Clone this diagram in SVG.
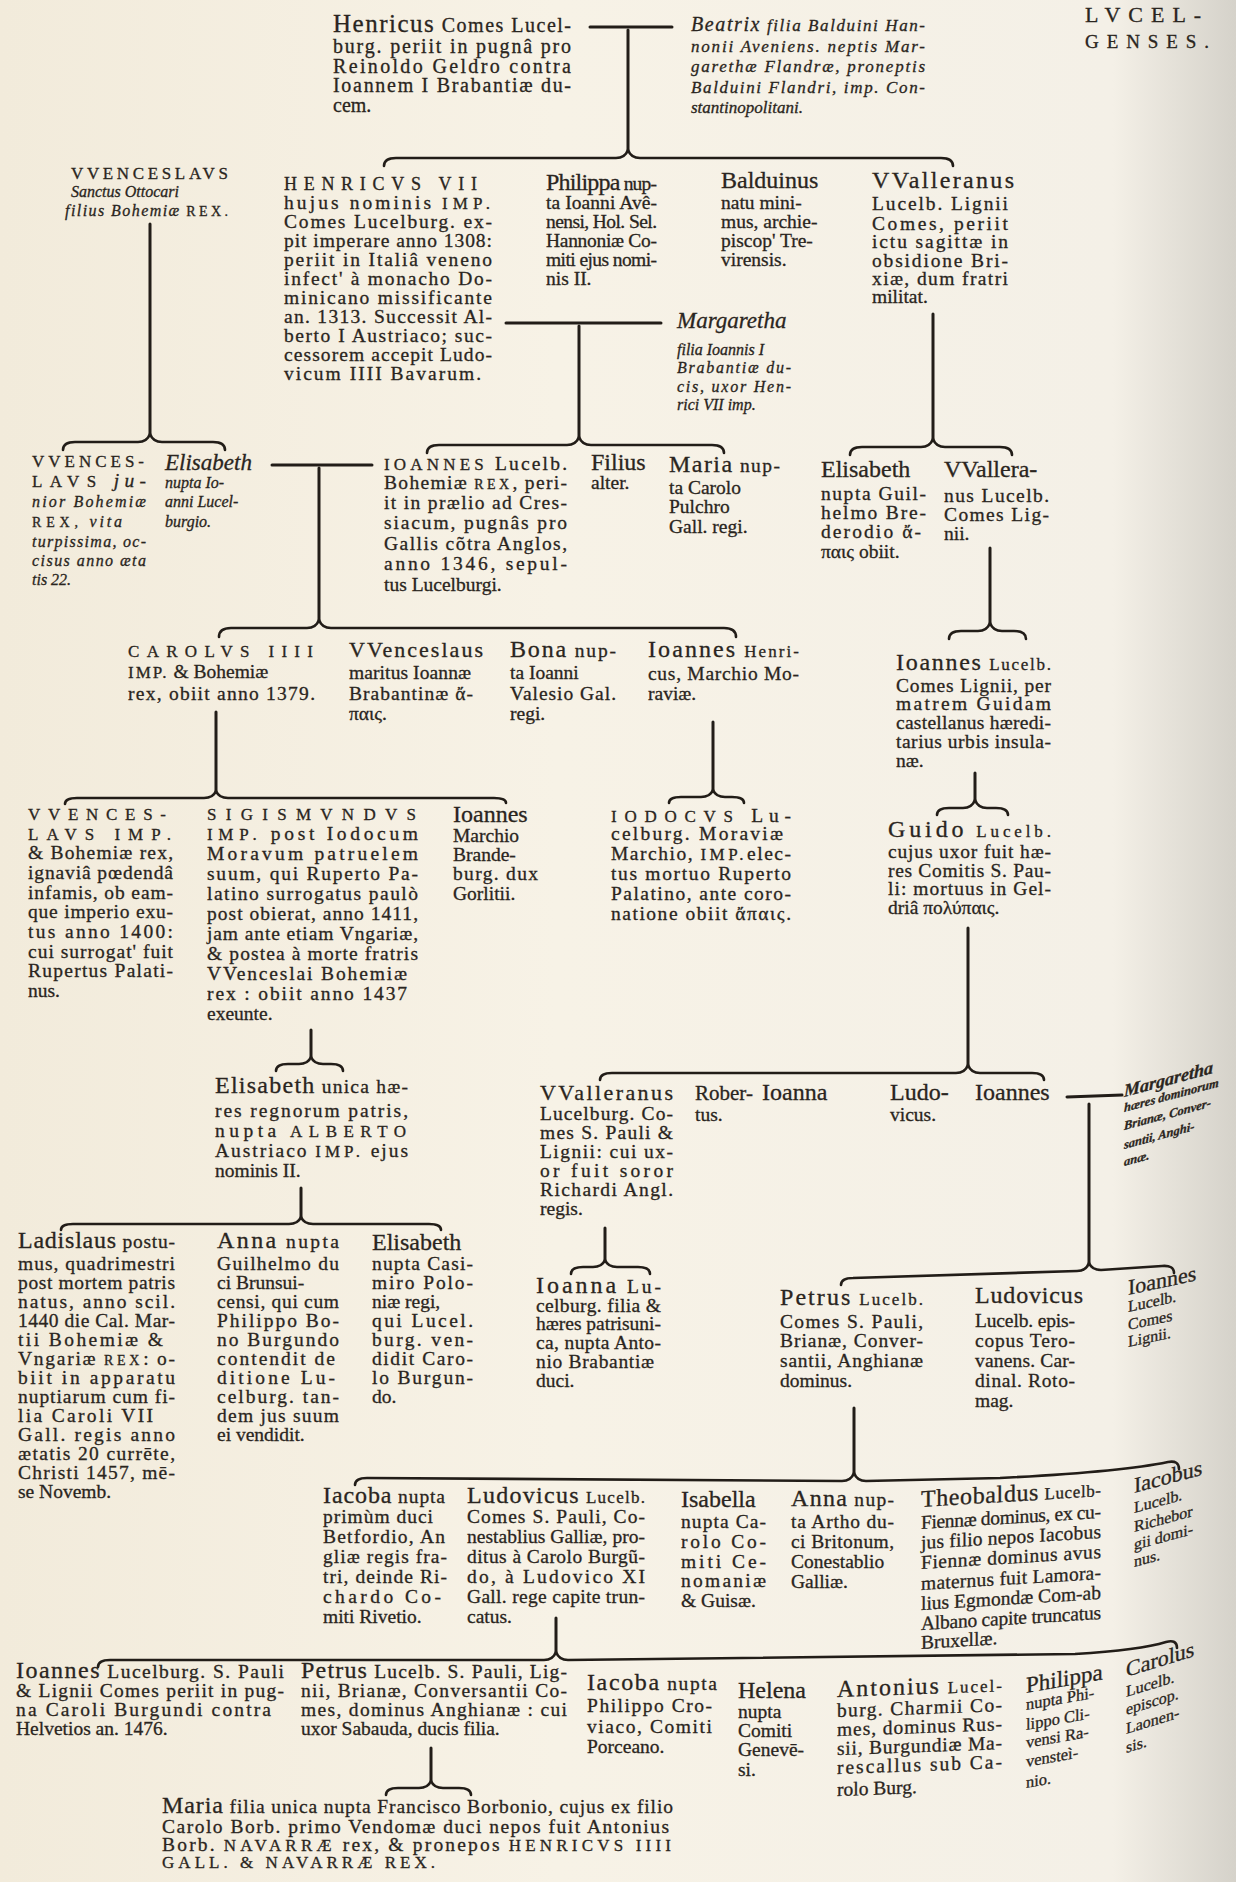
<svg xmlns="http://www.w3.org/2000/svg" width="1236" height="1882" viewBox="0 0 1236 1882">
<defs>
<linearGradient id="pg" x1="0" y1="0" x2="1" y2="0">
<stop offset="0" stop-color="#f2ebdb"/>
<stop offset="0.45" stop-color="#f7f2e6"/>
<stop offset="0.9" stop-color="#f4f0e7"/>
<stop offset="1" stop-color="#d5d2ca"/>
</linearGradient>
<style>
.t{font-family:"Liberation Serif","DejaVu Serif",serif;font-size:19.5px;fill:#2a2520;stroke:#2a2520;stroke-width:0.3px}
.h{font-size:24px}
.c{font-size:17px;letter-spacing:2px}
.i{font-style:italic}
.sm{font-size:16px}
.n{font-style:normal}
.ln{fill:none;stroke:#221d18;stroke-width:3;stroke-linecap:round}
.br{fill:none;stroke:#221d18;stroke-width:2.6;stroke-linecap:round;stroke-linejoin:round}
</style>
</defs>
<rect width="1236" height="1882" fill="url(#pg)"/>

<g id="connectors">
<path class="ln" d="M590,27 L672,27"/>
<path class="ln" d="M628,30 L628,150"/>
<path class="br" d="M384,166 Q384,158 396,158 L616,158 Q625,158 628,150 Q631,158 640,158 L941,158 Q953,158 953,166"/>
<path class="ln" d="M506,323 L661,323"/>
<path class="ln" d="M579,326 L579,437"/>
<path class="br" d="M427,453 Q427,445 439,445 L567,445 Q576,445 579,437 Q582,445 591,445 L712,445 Q724,445 724,453"/>
<path class="ln" d="M150,224 L150,434"/>
<path class="br" d="M63,450 Q63,442 75,442 L138,442 Q147,442 150,434 Q153,442 162,442 L213,442 Q225,442 225,450"/>
<path class="ln" d="M933,314 L933,439"/>
<path class="br" d="M850,455 Q850,447 862,447 L921,447 Q930,447 933,439 Q936,447 945,447 L1000,447 Q1012,447 1012,455"/>
<path class="ln" d="M272,465 L372,465"/>
<path class="ln" d="M319,468 L319,620"/>
<path class="br" d="M219,637 Q219,628 231,628 L307,628 Q316,628 319,620 Q322,628 331,628 L724,628 Q736,628 736,637"/>
<path class="ln" d="M990,548 L990,623"/>
<path class="br" d="M949,639 Q949,631 961,631 L978,631 Q987,631 990,623 Q993,631 1002,631 L1014,631 Q1026,631 1026,639"/>
<path class="ln" d="M216,712 L216,791"/>
<path class="br" d="M65,804 Q65,798 77,798 L204,798 Q213,798 216,791 Q219,798 228,798 L494,798 Q506,798 506,803"/>
<path class="ln" d="M713,722 L713,790"/>
<path class="br" d="M669,803 Q669,797 681,797 L701,797 Q710,797 713,790 Q716,797 725,797 L732,797 Q744,797 744,803"/>
<path class="ln" d="M975,773 L975,800"/>
<path class="br" d="M937,815 Q937,808 949,808 L963,808 Q972,808 975,800 Q978,808 987,808 L996,808 Q1008,808 1008,815"/>
<path class="ln" d="M968,928 L968,1065"/>
<path class="br" d="M600,1080 Q600,1073 612,1073 L956,1073 Q965,1073 968,1065 Q971,1073 980,1073 L1032,1073 Q1044,1073 1044,1080"/>
<path class="ln" d="M311,1030 L311,1057"/>
<path class="br" d="M276,1071 Q276,1064 288,1064 L299,1064 Q308,1064 311,1057 Q314,1064 323,1064 L331,1064 Q343,1064 343,1071"/>
<path class="ln" d="M301,1188 L301,1217"/>
<path class="br" d="M61,1230 Q61,1224 73,1224 L289,1224 Q298,1224 301,1217 Q304,1224 313,1224 L429,1224 Q441,1224 441,1230"/>
<path class="ln" d="M605,1228 L605,1260"/>
<path class="br" d="M571,1274 Q571,1267 583,1267 L593,1267 Q602,1267 605,1260 Q608,1267 617,1267 L638,1267 Q650,1267 650,1274"/>
<path class="ln" d="M1067,1097 L1122,1095"/>
<path class="ln" d="M1089,1104 L1089,1263"/>
<path class="br" d="M841,1285 Q841,1278 853,1278 L1077,1271 Q1086,1271 1089,1263 Q1092,1270 1101,1270 L1162,1266 Q1174,1265 1174,1273"/>
<path class="ln" d="M854,1408 L854,1473"/>
<path class="br" d="M355,1485 Q355,1478 367,1478 L842,1481 Q851,1481 854,1473 Q857,1481 866,1481 L1000,1478 Q1120,1472 1168,1462 Q1179,1460 1179,1469"/>
<path class="ln" d="M556,1618 L556,1652"/>
<path class="br" d="M98,1667 Q98,1660 110,1660 L544,1660 Q553,1660 556,1652 Q559,1660 568,1660 L1075,1654 Q1140,1650 1166,1642 Q1177,1639 1177,1648"/>
<path class="ln" d="M431,1748 L431,1781"/>
<path class="br" d="M386,1795 Q386,1788 398,1788 L419,1788 Q428,1788 431,1781 Q434,1788 443,1788 L459,1788 Q471,1788 471,1795"/>
</g>

<g id="title">
<text class="t" x="1085" y="22" style="font-size:22px;letter-spacing:8px">LVCEL-</text>
<text class="t" x="1085" y="48" textLength="124" style="font-size:19px">GENSES.</text>
</g>

<g id="n-henricus">
<text class="t" x="333" y="32" textLength="238" style="font-size:20px"><tspan style="font-size:25px">Henricus</tspan> Comes Lucel-</text>
<text class="t" x="333" y="53" textLength="238" style="font-size:20px">burg. periit in pugnâ pro</text>
<text class="t" x="333" y="73" textLength="238" style="font-size:20px">Reinoldo Geldro contra</text>
<text class="t" x="333" y="92" textLength="238" style="font-size:20px">Ioannem I Brabantiæ du-</text>
<text class="t" x="333" y="112" style="font-size:20px">cem.</text>
</g>

<g id="n-beatrix">
<text class="t i" x="691" y="31" textLength="234" style="font-size:17px"><tspan style="font-size:20px">Beatrix</tspan> filia Balduini Han-</text>
<text class="t i" x="691" y="52" textLength="234" style="font-size:17px">nonii Aveniens. neptis Mar-</text>
<text class="t i" x="691" y="72" textLength="234" style="font-size:17px">garethæ Flandræ, proneptis</text>
<text class="t i" x="691" y="93" textLength="234" style="font-size:17px">Balduini Flandri, imp. Con-</text>
<text class="t i" x="691" y="113" style="font-size:17px">stantinopolitani.</text>
</g>

<g id="n-vvenceslaus-bohemiae">
<text class="t c" x="71" y="179" textLength="159">VVENCESLAVS</text>
<text class="t i sm" x="71" y="197">Sanctus Ottocari</text>
<text class="t i sm" x="65" y="216" textLength="165">filius Bohemiæ <tspan class="c n" style="font-size:14px">REX.</tspan></text>
</g>

<g id="n-henricus-vii">
<text class="t c" x="284" y="190" textLength="195" style="font-size:18px">HENRICVS VII</text>
<text class="t" x="284" y="209" textLength="208">hujus nominis <tspan class="c">IMP.</tspan></text>
<text class="t" x="284" y="228" textLength="208">Comes Lucelburg. ex-</text>
<text class="t" x="284" y="247" textLength="208">pit imperare anno 1308:</text>
<text class="t" x="284" y="266" textLength="208">periit in Italiâ veneno</text>
<text class="t" x="284" y="285" textLength="208">infect' à monacho Do-</text>
<text class="t" x="284" y="304" textLength="208">minicano missificante</text>
<text class="t" x="284" y="323" textLength="208">an. 1313. Successit Al-</text>
<text class="t" x="284" y="342" textLength="208">berto I Austriaco; suc-</text>
<text class="t" x="284" y="361" textLength="208">cessorem accepit Ludo-</text>
<text class="t" x="284" y="380" textLength="197">vicum IIII Bavarum.</text>
</g>

<g id="n-philippa">
<text class="t" x="546" y="190" textLength="111"><tspan class="h">Philippa</tspan> nup-</text>
<text class="t" x="546" y="209" textLength="111">ta Ioanni Avê-</text>
<text class="t" x="546" y="228" textLength="111">nensi, Hol. Sel.</text>
<text class="t" x="546" y="247" textLength="111">Hannoniæ Co-</text>
<text class="t" x="546" y="266" textLength="111">miti ejus nomi-</text>
<text class="t" x="546" y="285">nis II.</text>
</g>

<g id="n-balduinus">
<text class="t h" x="721" y="188">Balduinus</text>
<text class="t" x="721" y="209">natu mini-</text>
<text class="t" x="721" y="228">mus, archie-</text>
<text class="t" x="721" y="247">piscop' Tre-</text>
<text class="t" x="721" y="266">virensis.</text>
</g>

<g id="n-valleranus-1">
<text class="t h" x="872" y="188" textLength="142">VValleranus</text>
<text class="t" x="872" y="210" textLength="136">Lucelb. Lignii</text>
<text class="t" x="872" y="230" textLength="136">Comes, periit</text>
<text class="t" x="872" y="248" textLength="136">ictu sagittæ in</text>
<text class="t" x="872" y="267" textLength="136">obsidione Bri-</text>
<text class="t" x="872" y="285" textLength="136">xiæ, dum fratri</text>
<text class="t" x="872" y="303">militat.</text>
</g>

<g id="n-margaretha-1">
<text class="t i" x="677" y="328" style="font-size:23px">Margaretha</text>
<text class="t i sm" x="677" y="355">filia Ioannis I</text>
<text class="t i sm" x="677" y="373" textLength="114">Brabantiæ du-</text>
<text class="t i sm" x="677" y="392" textLength="114">cis, uxor Hen-</text>
<text class="t i sm" x="677" y="410">rici VII imp.</text>
</g>

<g id="n-vvenceslaus-junior">
<text class="t c" x="32" y="467" textLength="114">VVENCES-</text>
<text class="t" x="32" y="487" textLength="114"><tspan class="c">LAVS</tspan> <tspan class="i">ju-</tspan></text>
<text class="t i sm" x="32" y="507" textLength="114">nior Bohemiæ</text>
<text class="t i sm" x="32" y="527" textLength="90"><tspan class="c n" style="font-size:14px">REX,</tspan> vita</text>
<text class="t i sm" x="32" y="547" textLength="114">turpissima, oc-</text>
<text class="t i sm" x="32" y="566" textLength="114">cisus anno æta</text>
<text class="t i sm" x="32" y="585">tis 22.</text>
</g>

<g id="n-elisabeth-bohemiae">
<text class="t i" x="165" y="470" style="font-size:23px">Elisabeth</text>
<text class="t i sm" x="165" y="488">nupta Io-</text>
<text class="t i sm" x="165" y="507">anni Lucel-</text>
<text class="t i sm" x="165" y="527">burgio.</text>
</g>

<g id="n-ioannes-bohemiae">
<text class="t" x="384" y="470" textLength="183"><tspan class="c">IOANNES</tspan> Lucelb.</text>
<text class="t" x="384" y="489" textLength="183">Bohemiæ <tspan class="c" style="font-size:14px">REX</tspan>, peri-</text>
<text class="t" x="384" y="509" textLength="183">it in prælio ad Cres-</text>
<text class="t" x="384" y="529" textLength="183">siacum, pugnâs pro</text>
<text class="t" x="384" y="550" textLength="183">Gallis cõtra Anglos,</text>
<text class="t" x="384" y="570" textLength="183">anno 1346, sepul-</text>
<text class="t" x="384" y="591">tus Lucelburgi.</text>
</g>

<g id="n-filius">
<text class="t h" x="591" y="470">Filius</text>
<text class="t" x="591" y="489">alter.</text>
</g>

<g id="n-maria-1">
<text class="t" x="669" y="472" textLength="111"><tspan class="h">Maria</tspan> nup-</text>
<text class="t" x="669" y="494">ta Carolo</text>
<text class="t" x="669" y="513">Pulchro</text>
<text class="t" x="669" y="533">Gall. regi.</text>
</g>

<g id="n-elisabeth-2">
<text class="t h" x="821" y="477">Elisabeth</text>
<text class="t" x="821" y="500" textLength="105">nupta Guil-</text>
<text class="t" x="821" y="519" textLength="105">helmo Bre-</text>
<text class="t" x="821" y="538" textLength="100">derodio ἄ-</text>
<text class="t" x="821" y="558">παις obiit.</text>
</g>

<g id="n-valleranus-2">
<text class="t h" x="944" y="477">VVallera-</text>
<text class="t" x="944" y="502" textLength="105">nus Lucelb.</text>
<text class="t" x="944" y="521" textLength="105">Comes Lig-</text>
<text class="t" x="944" y="540">nii.</text>
</g>

<g id="n-carolus-iiii">
<text class="t c" x="128" y="657" textLength="187" style="font-size:17px">CAROLVS IIII</text>
<text class="t" x="128" y="678"><tspan class="c">IMP.</tspan> &amp; Bohemiæ</text>
<text class="t" x="128" y="700" textLength="187">rex, obiit anno 1379.</text>
</g>

<g id="n-vvenceslaus-brabantiae">
<text class="t h" x="349" y="657" textLength="134" style="font-size:22px">VVenceslaus</text>
<text class="t" x="349" y="679" textLength="122">maritus Ioannæ</text>
<text class="t" x="349" y="700" textLength="124">Brabantinæ ἄ-</text>
<text class="t" x="349" y="720">παις.</text>
</g>

<g id="n-bona">
<text class="t" x="510" y="657" textLength="106"><tspan class="h">Bona</tspan> nup-</text>
<text class="t" x="510" y="679">ta Ioanni</text>
<text class="t" x="510" y="700" textLength="106">Valesio Gal.</text>
<text class="t" x="510" y="720">regi.</text>
</g>

<g id="n-ioannes-henricus">
<text class="t" x="648" y="657" textLength="151"><tspan class="h">Ioannes</tspan> <tspan style="font-size:17px">Henri-</tspan></text>
<text class="t" x="648" y="680" textLength="151">cus, Marchio Mo-</text>
<text class="t" x="648" y="700">raviæ.</text>
</g>

<g id="n-ioannes-lignii-1">
<text class="t" x="896" y="670" textLength="155"><tspan class="h">Ioannes</tspan> <tspan style="font-size:17px">Lucelb.</tspan></text>
<text class="t" x="896" y="692" textLength="155">Comes Lignii, per</text>
<text class="t" x="896" y="710" textLength="155">matrem Guidam</text>
<text class="t" x="896" y="729" textLength="155">castellanus hæredi-</text>
<text class="t" x="896" y="748" textLength="155">tarius urbis insula-</text>
<text class="t" x="896" y="767">næ.</text>
</g>

<g id="n-vvenceslaus-imp">
<text class="t c" x="28" y="820" textLength="140">VVENCES-</text>
<text class="t c" x="28" y="840" textLength="145">LAVS IMP.</text>
<text class="t" x="28" y="859" textLength="145">&amp; Bohemiæ rex,</text>
<text class="t" x="28" y="879" textLength="145">ignaviâ pœdendâ</text>
<text class="t" x="28" y="899" textLength="145">infamis, ob eam-</text>
<text class="t" x="28" y="918" textLength="145">que imperio exu-</text>
<text class="t" x="28" y="938" textLength="145">tus anno 1400:</text>
<text class="t" x="28" y="958" textLength="145">cui surrogat' fuit</text>
<text class="t" x="28" y="977" textLength="145">Rupertus Palati-</text>
<text class="t" x="28" y="997">nus.</text>
</g>

<g id="n-sigismundus">
<text class="t c" x="207" y="820" textLength="211" style="font-size:17px">SIGISMVNDVS</text>
<text class="t" x="207" y="840" textLength="211"><tspan class="c">IMP.</tspan> post Iodocum</text>
<text class="t" x="207" y="860" textLength="211">Moravum patruelem</text>
<text class="t" x="207" y="880" textLength="211">suum, qui Ruperto Pa-</text>
<text class="t" x="207" y="900" textLength="211">latino surrogatus paulò</text>
<text class="t" x="207" y="920" textLength="211">post obierat, anno 1411,</text>
<text class="t" x="207" y="940" textLength="211">jam ante etiam Vngariæ,</text>
<text class="t" x="207" y="960" textLength="211">&amp; postea à morte fratris</text>
<text class="t" x="207" y="980" textLength="200">VVenceslai Bohemiæ</text>
<text class="t" x="207" y="1000" textLength="200">rex : obiit anno 1437</text>
<text class="t" x="207" y="1020">exeunte.</text>
</g>

<g id="n-ioannes-brandeburg">
<text class="t h" x="453" y="822">Ioannes</text>
<text class="t" x="453" y="842">Marchio</text>
<text class="t" x="453" y="861">Brande-</text>
<text class="t" x="453" y="880" textLength="85">burg. dux</text>
<text class="t" x="453" y="900">Gorlitii.</text>
</g>

<g id="n-iodocus">
<text class="t" x="611" y="822" textLength="180"><tspan class="c">IODOCVS</tspan> Lu-</text>
<text class="t" x="611" y="840" textLength="172">celburg. Moraviæ</text>
<text class="t" x="611" y="860" textLength="180">Marchio, <tspan class="c">IMP.</tspan>elec-</text>
<text class="t" x="611" y="880" textLength="180">tus mortuo Ruperto</text>
<text class="t" x="611" y="900" textLength="180">Palatino, ante coro-</text>
<text class="t" x="611" y="920" textLength="180">natione obiit ἄπαις.</text>
</g>

<g id="n-guido">
<text class="t" x="888" y="837" textLength="163"><tspan class="h">Guido</tspan> <tspan style="font-size:17px">Lucelb.</tspan></text>
<text class="t" x="888" y="858" textLength="163">cujus uxor fuit hæ-</text>
<text class="t" x="888" y="877" textLength="163">res Comitis S. Pau-</text>
<text class="t" x="888" y="895" textLength="163">li: mortuus in Gel-</text>
<text class="t" x="888" y="914">driâ πολύπαις.</text>
</g>

<g id="n-elisabeth-unica">
<text class="t" x="215" y="1093" textLength="193"><tspan class="h">Elisabeth</tspan> unica hæ-</text>
<text class="t" x="215" y="1117" textLength="193">res regnorum patris,</text>
<text class="t" x="215" y="1137" textLength="193">nupta <tspan class="c">ALBERTO</tspan></text>
<text class="t" x="215" y="1157" textLength="193">Austriaco <tspan class="c">IMP.</tspan> ejus</text>
<text class="t" x="215" y="1177">nominis II.</text>
</g>

<g id="n-valleranus-3">
<text class="t h" x="540" y="1100" textLength="133" style="font-size:22px">VValleranus</text>
<text class="t" x="540" y="1120" textLength="133">Lucelburg. Co-</text>
<text class="t" x="540" y="1139" textLength="133">mes S. Pauli &amp;</text>
<text class="t" x="540" y="1158" textLength="133">Lignii: cui ux-</text>
<text class="t" x="540" y="1177" textLength="133">or fuit soror</text>
<text class="t" x="540" y="1196" textLength="133">Richardi Angl.</text>
<text class="t" x="540" y="1215">regis.</text>
</g>

<g id="n-robertus">
<text class="t" x="695" y="1100" style="font-size:21px">Rober-</text>
<text class="t" x="695" y="1121">tus.</text>
</g>

<g id="n-ioanna-1">
<text class="t h" x="762" y="1100">Ioanna</text>
</g>

<g id="n-ludovicus-1">
<text class="t h" x="890" y="1100">Ludo-</text>
<text class="t" x="890" y="1121">vicus.</text>
</g>

<g id="n-ioannes-2">
<text class="t h" x="975" y="1100">Ioannes</text>
</g>

<g id="n-margaretha-2" transform="translate(1124,1097) skewY(-15)">
<text class="t i" x="0" y="0" style="font-size:18px;font-weight:bold">Margaretha</text>
<text class="t i" x="0" y="15" style="font-size:12.5px;font-weight:bold">hæres dominorum</text>
<text class="t i" x="0" y="33" style="font-size:12.5px;font-weight:bold">Brianæ, Conver-</text>
<text class="t i" x="0" y="52" style="font-size:12.5px;font-weight:bold">santii, Anghi-</text>
<text class="t i" x="0" y="69" style="font-size:12.5px;font-weight:bold">anæ.</text>
</g>

<g id="n-ladislaus">
<text class="t" x="18" y="1248" textLength="157"><tspan class="h">Ladislaus</tspan> postu-</text>
<text class="t" x="18" y="1270" textLength="157">mus, quadrimestri</text>
<text class="t" x="18" y="1289" textLength="157">post mortem patris</text>
<text class="t" x="18" y="1308" textLength="157">natus, anno scil.</text>
<text class="t" x="18" y="1327" textLength="157">1440 die Cal. Mar-</text>
<text class="t" x="18" y="1346" textLength="145">tii Bohemiæ &amp;</text>
<text class="t" x="18" y="1365" textLength="157">Vngariæ <tspan class="c" style="font-size:14px">REX</tspan>: o-</text>
<text class="t" x="18" y="1384" textLength="157">biit in apparatu</text>
<text class="t" x="18" y="1403" textLength="157">nuptiarum cum fi-</text>
<text class="t" x="18" y="1422" textLength="135">lia Caroli VII</text>
<text class="t" x="18" y="1441" textLength="157">Gall. regis anno</text>
<text class="t" x="18" y="1460" textLength="157">ætatis 20 currēte,</text>
<text class="t" x="18" y="1479" textLength="157">Christi 1457, mē-</text>
<text class="t" x="18" y="1498">se Novemb.</text>
</g>

<g id="n-anna-1">
<text class="t" x="217" y="1248" textLength="122"><tspan class="h">Anna</tspan> nupta</text>
<text class="t" x="217" y="1270" textLength="122">Guilhelmo du</text>
<text class="t" x="217" y="1289">ci Brunsui-</text>
<text class="t" x="217" y="1308" textLength="122">censi, qui cum</text>
<text class="t" x="217" y="1327" textLength="122">Philippo Bo-</text>
<text class="t" x="217" y="1346" textLength="122">no Burgundo</text>
<text class="t" x="217" y="1365" textLength="118">contendit de</text>
<text class="t" x="217" y="1384" textLength="118">ditione Lu-</text>
<text class="t" x="217" y="1403" textLength="122">celburg. tan-</text>
<text class="t" x="217" y="1422" textLength="122">dem jus suum</text>
<text class="t" x="217" y="1441">ei vendidit.</text>
</g>

<g id="n-elisabeth-3">
<text class="t h" x="372" y="1250">Elisabeth</text>
<text class="t" x="372" y="1270" textLength="101">nupta Casi-</text>
<text class="t" x="372" y="1289" textLength="101">miro Polo-</text>
<text class="t" x="372" y="1308">niæ regi,</text>
<text class="t" x="372" y="1327" textLength="101">qui Lucel.</text>
<text class="t" x="372" y="1346" textLength="101">burg. ven-</text>
<text class="t" x="372" y="1365" textLength="101">didit Caro-</text>
<text class="t" x="372" y="1384" textLength="101">lo Burgun-</text>
<text class="t" x="372" y="1403">do.</text>
</g>

<g id="n-ioanna-2">
<text class="t" x="536" y="1293" textLength="125"><tspan class="h">Ioanna</tspan> Lu-</text>
<text class="t" x="536" y="1312" textLength="125">celburg. filia &amp;</text>
<text class="t" x="536" y="1330" textLength="125">hæres patrisuni-</text>
<text class="t" x="536" y="1349" textLength="125">ca, nupta Anto-</text>
<text class="t" x="536" y="1368" textLength="118">nio Brabantiæ</text>
<text class="t" x="536" y="1387">duci.</text>
</g>

<g id="n-petrus-1">
<text class="t" x="780" y="1305" textLength="143"><tspan class="h">Petrus</tspan> <tspan style="font-size:17px">Lucelb.</tspan></text>
<text class="t" x="780" y="1328" textLength="143">Comes S. Pauli,</text>
<text class="t" x="780" y="1347" textLength="143">Brianæ, Conver-</text>
<text class="t" x="780" y="1367" textLength="143">santii, Anghianæ</text>
<text class="t" x="780" y="1387">dominus.</text>
</g>

<g id="n-ludovicus-2">
<text class="t h" x="975" y="1303" textLength="108">Ludovicus</text>
<text class="t" x="975" y="1327" textLength="100">Lucelb. epis-</text>
<text class="t" x="975" y="1347" textLength="100">copus Tero-</text>
<text class="t" x="975" y="1367" textLength="100">vanens. Car-</text>
<text class="t" x="975" y="1387" textLength="100">dinal. Roto-</text>
<text class="t" x="975" y="1407">mag.</text>
</g>

<g id="n-ioannes-lignii-2" transform="translate(1128,1295) skewY(-12)">
<text class="t" x="0" y="0" style="font-size:22px">Ioannes</text>
<text class="t" x="0" y="17" style="font-size:16px">Lucelb.</text>
<text class="t" x="0" y="35" style="font-size:16px">Comes</text>
<text class="t" x="0" y="52" style="font-size:16px">Lignii.</text>
</g>

<g id="n-iacoba-1">
<text class="t" x="323" y="1503" textLength="122"><tspan class="h">Iacoba</tspan> nupta</text>
<text class="t" x="323" y="1523" textLength="110">primùm duci</text>
<text class="t" x="323" y="1543" textLength="122">Betfordio, An</text>
<text class="t" x="323" y="1563" textLength="124">gliæ regis fra-</text>
<text class="t" x="323" y="1583" textLength="124">tri, deinde Ri-</text>
<text class="t" x="323" y="1603" textLength="118">chardo Co-</text>
<text class="t" x="323" y="1623">miti Rivetio.</text>
</g>

<g id="n-ludovicus-3">
<text class="t" x="467" y="1503" textLength="178"><tspan class="h">Ludovicus</tspan> <tspan style="font-size:17px">Lucelb.</tspan></text>
<text class="t" x="467" y="1523" textLength="178">Comes S. Pauli, Co-</text>
<text class="t" x="467" y="1543" textLength="178">nestablius Galliæ, pro-</text>
<text class="t" x="467" y="1563" textLength="178">ditus à Carolo Burgũ-</text>
<text class="t" x="467" y="1583" textLength="178">do, à Ludovico XI</text>
<text class="t" x="467" y="1603" textLength="178">Gall. rege capite trun-</text>
<text class="t" x="467" y="1623">catus.</text>
</g>

<g id="n-isabella">
<text class="t h" x="681" y="1507">Isabella</text>
<text class="t" x="681" y="1528" textLength="85">nupta Ca-</text>
<text class="t" x="681" y="1548" textLength="85">rolo Co-</text>
<text class="t" x="681" y="1568" textLength="85">miti Ce-</text>
<text class="t" x="681" y="1587" textLength="85">nomaniæ</text>
<text class="t" x="681" y="1607">&amp; Guisæ.</text>
</g>

<g id="n-anna-2">
<text class="t" x="791" y="1506" textLength="103"><tspan class="h">Anna</tspan> nup-</text>
<text class="t" x="791" y="1528" textLength="103">ta Artho du-</text>
<text class="t" x="791" y="1548" textLength="103">ci Britonum,</text>
<text class="t" x="791" y="1568">Conestablio</text>
<text class="t" x="791" y="1588">Galliæ.</text>
</g>

<g id="n-theobaldus" transform="translate(921,1507) skewY(-3.5)">
<text class="t" x="0" y="0" textLength="180"><tspan class="h">Theobaldus</tspan> <tspan style="font-size:17px">Lucelb-</tspan></text>
<text class="t" x="0" y="22" textLength="180">Fiennæ dominus, ex cu-</text>
<text class="t" x="0" y="42" textLength="180">jus filio nepos Iacobus</text>
<text class="t" x="0" y="62" textLength="180">Fiennæ dominus avus</text>
<text class="t" x="0" y="83" textLength="180">maternus fuit Lamora-</text>
<text class="t" x="0" y="103" textLength="180">lius Egmondæ Com-ab</text>
<text class="t" x="0" y="123" textLength="180">Albano capite truncatus</text>
<text class="t" x="0" y="142">Bruxellæ.</text>
</g>

<g id="n-iacobus" transform="translate(1134,1493) skewY(-15)">
<text class="t" x="0" y="0" style="font-size:22px">Iacobus</text>
<text class="t" x="0" y="20" style="font-size:16px">Lucelb.</text>
<text class="t" x="0" y="39" style="font-size:16px">Richebor</text>
<text class="t" x="0" y="57" style="font-size:16px">gii domi-</text>
<text class="t" x="0" y="74" style="font-size:16px">nus.</text>
</g>

<g id="n-ioannes-3">
<text class="t" x="16" y="1678" textLength="268"><tspan class="h">Ioannes</tspan> Lucelburg. S. Pauli</text>
<text class="t" x="16" y="1697" textLength="268">&amp; Lignii Comes periit in pug-</text>
<text class="t" x="16" y="1716" textLength="255">na Caroli Burgundi contra</text>
<text class="t" x="16" y="1735">Helvetios an. 1476.</text>
</g>

<g id="n-petrus-2">
<text class="t" x="301" y="1678" textLength="266"><tspan class="h">Petrus</tspan> Lucelb. S. Pauli, Lig-</text>
<text class="t" x="301" y="1697" textLength="266">nii, Brianæ, Conversantii Co-</text>
<text class="t" x="301" y="1716" textLength="266">mes, dominus Anghianæ : cui</text>
<text class="t" x="301" y="1735">uxor Sabauda, ducis filia.</text>
</g>

<g id="n-maria-2">
<text class="t" x="162" y="1813" textLength="511"><tspan class="h">Maria</tspan> filia unica nupta Francisco Borbonio, cujus ex filio</text>
<text class="t" x="162" y="1833" textLength="507">Carolo Borb. primo Vendomæ duci nepos fuit Antonius</text>
<text class="t" x="162" y="1851" textLength="511">Borb. <tspan class="c">NAVARRÆ</tspan> rex, &amp; pronepos <tspan class="c">HENRICVS IIII</tspan></text>
<text class="t" x="162" y="1868" textLength="275"><tspan class="c">GALL. &amp; NAVARRÆ REX.</tspan></text>
</g>

<g id="n-iacoba-2">
<text class="t" x="587" y="1690" textLength="130"><tspan class="h">Iacoba</tspan> nupta</text>
<text class="t" x="587" y="1712" textLength="125">Philippo Cro-</text>
<text class="t" x="587" y="1733" textLength="125">viaco, Comiti</text>
<text class="t" x="587" y="1753">Porceano.</text>
</g>

<g id="n-helena">
<text class="t h" x="738" y="1698">Helena</text>
<text class="t" x="738" y="1718">nupta</text>
<text class="t" x="738" y="1737">Comiti</text>
<text class="t" x="738" y="1756">Genevē-</text>
<text class="t" x="738" y="1776">si.</text>
</g>

<g id="n-antonius" transform="translate(837,1697) skewY(-2)">
<text class="t" x="0" y="0" textLength="165"><tspan class="h">Antonius</tspan> <tspan style="font-size:17px">Lucel-</tspan></text>
<text class="t" x="0" y="20" textLength="165">burg. Charmii Co-</text>
<text class="t" x="0" y="39" textLength="165">mes, dominus Rus-</text>
<text class="t" x="0" y="58" textLength="165">sii, Burgundiæ Ma-</text>
<text class="t" x="0" y="77" textLength="165">rescallus sub Ca-</text>
<text class="t" x="0" y="99">rolo Burg.</text>
</g>

<g id="n-philippa-2" transform="translate(1026,1693) skewY(-10)">
<text class="t" x="0" y="0" style="font-size:23px">Philippa</text>
<text class="t" x="0" y="17" style="font-size:16.5px">nupta Phi-</text>
<text class="t" x="0" y="37" style="font-size:16.5px">lippo Cli-</text>
<text class="t" x="0" y="55" style="font-size:16.5px">vensi Ra-</text>
<text class="t" x="0" y="74" style="font-size:16.5px">vensteì-</text>
<text class="t" x="0" y="95" style="font-size:16.5px">nio.</text>
</g>

<g id="n-carolus-2" transform="translate(1126,1677) skewY(-17)">
<text class="t" x="0" y="0" style="font-size:22px">Carolus</text>
<text class="t" x="0" y="20" style="font-size:16px">Lucelb.</text>
<text class="t" x="0" y="38" style="font-size:16px">episcop.</text>
<text class="t" x="0" y="57" style="font-size:16px">Laonen-</text>
<text class="t" x="0" y="76" style="font-size:16px">sis.</text>
</g>
</svg>
